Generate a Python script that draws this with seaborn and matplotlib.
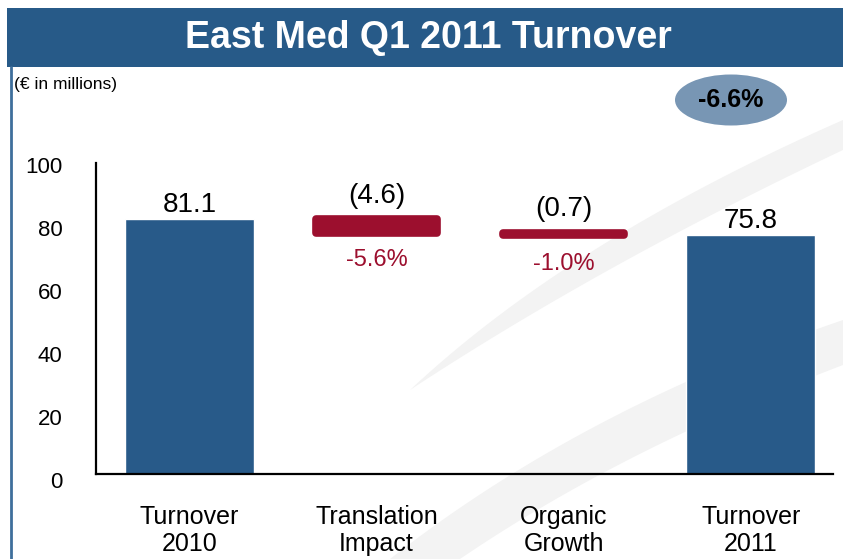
import numpy as np
import pandas as pd
import seaborn as sns
import matplotlib.pyplot as plt
from matplotlib.patches import Ellipse, Rectangle, Polygon
from matplotlib.transforms import ScaledTranslation

# data
categories = ["Turnover\n2010", "Translation\nImpact", "Organic\nGrowth", "Turnover\n2011"]
totals = [81.1, 75.8]
deltas = [-4.6, -0.7]
value_labels = ["81.1", "(4.6)", "(0.7)", "75.8"]
pct_labels = ["-5.6%", "-1.0%"]
total_change = "-6.6%"

BLUE = "#285a89"
RED = "#9c0f2e"
ELLIPSE = "#7896b4"

sns.set_theme(style="white")
plt.rcParams["font.family"] = ["Liberation Sans", "DejaVu Sans"]
plt.rcParams["text.color"] = "black"
plt.rcParams["xtick.color"] = "black"
plt.rcParams["ytick.color"] = "black"

W, H = 843, 559
fig = plt.figure(figsize=(W / 100, H / 100), dpi=100)
fig.patch.set_facecolor("white")


def px(x, y):
    return (x / W, 1 - y / H)


def curve(p0, p1, p2, n=40):
    # quadratic bezier in pixel coords -> figure fraction
    t = np.linspace(0, 1, n)[:, None]
    pts = (1 - t) ** 2 * np.array(p0) + 2 * (1 - t) * t * np.array(p1) + t ** 2 * np.array(p2)
    return [px(a, b) for a, b in pts]


# faint background swooshes
upper = curve((410, 390), (570, 240), (843, 120)) + curve((843, 150), (600, 265), (410, 390))
lower = curve((390, 559), (580, 410), (843, 320)) + curve((843, 365), (620, 450), (460, 559))
for pts in (upper, lower):
    fig.patches.append(Polygon(pts, closed=True, transform=fig.transFigure,
                               facecolor="#f3f3f3", edgecolor="none", zorder=-10))

# title bar + left frame line
fig.patches.append(Rectangle(px(7, 67), 1, 59 / H, transform=fig.transFigure,
                             facecolor="#275a88", edgecolor="none", zorder=-5))
fig.lines.append(plt.Line2D([11 / W, 11 / W], [0, 1 - 67 / H], transform=fig.transFigure,
                            color="#3f6f9c", lw=2))
fig.text(0.508, 1 - 38 / H, "East Med Q1 2011 Turnover", color="white", fontsize=27,
         fontweight="bold", ha="center", va="center")
fig.text(14 / W, 1 - 84 / H, "(€ in millions)", fontsize=12.5, ha="left", va="center")

ax = fig.add_axes([96 / W, 85 / H, 737 / W, 315 / H])
ax.set_facecolor("none")

# totals
tot_df = pd.DataFrame({"category": [categories[0], categories[3]], "value": totals})
sns.barplot(data=tot_df, x="category", y="value", order=categories, color=BLUE,
            saturation=1, width=0.69, ax=ax)

# floating delta bars
level = totals[0]
tops, bottoms = [], []
for d in deltas:
    tops.append(level)
    level = level + d
    bottoms.append(level)
xpos = [1, 2]
ax.bar(xpos, [t - b for t, b in zip(tops, bottoms)], bottom=bottoms, width=0.65,
       color=RED, edgecolor=RED, linewidth=5.5, joinstyle="round", zorder=3)

# value labels
ax.annotate(value_labels[0], (0, totals[0]), xytext=(0, 5), textcoords="offset points",
            ha="center", va="baseline", fontsize=20)
ax.annotate(value_labels[3], (3, totals[1]), xytext=(0, 5), textcoords="offset points",
            ha="center", va="baseline", fontsize=20)
for i, x in enumerate(xpos):
    ax.annotate(value_labels[x], (x, tops[i]), xytext=(0, 11 + 1.5 * i), textcoords="offset points",
                ha="center", va="baseline", fontsize=20)
    ax.annotate(pct_labels[i], (x, bottoms[i]), xytext=(0, -11.5 - 1 * i), textcoords="offset points",
                ha="center", va="top", fontsize=17, color=RED)

ax.set_ylim(0, 100)
ax.set_xlim(-0.5, 3.44)
ax.set_yticks(np.arange(0, 101, 20))
ax.set_xlabel("")
ax.set_ylabel("")
sns.despine(ax=ax)
for s in ["left", "bottom"]:
    ax.spines[s].set_color("black")
    ax.spines[s].set_linewidth(1.6)
ax.spines["left"].set_bounds(0, 98.7)
ax.tick_params(axis="y", length=0, pad=24, labelsize=16)
ax.tick_params(axis="x", length=0, pad=22, labelsize=18)
for lab in ax.get_yticklabels():
    lab.set_transform(lab.get_transform() + ScaledTranslation(0, -6 / 100, fig.dpi_scale_trans))
for lab in ax.get_xticklabels():
    lab.set_linespacing(1.2)

# overall change ellipse
fig.patches.append(Ellipse((731 / W, 1 - 100 / H), 112 / W, 51 / H, transform=fig.transFigure,
                           facecolor=ELLIPSE, edgecolor="none"))
fig.text(731 / W, 1 - 100 / H, total_change, fontsize=18, fontweight="bold",
         ha="center", va="center")

fig.savefig("out.png", dpi=100)
